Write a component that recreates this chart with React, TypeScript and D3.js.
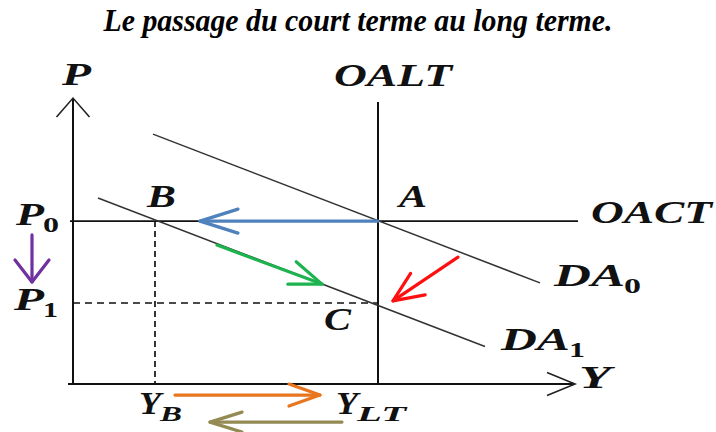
import React from "react";
import * as d3 from "d3";

// ---- Diagram data (economic units: Y on x, P on y) ----
const axisExtent = { yMax: 95.3, xMax: 100.4 };
const equilibrium = { YLT: 61, YB: 16.4, P0: 54.3, P1: 27 };
const OALT = [[61, 0], [61, 94]];
const OACT = [[-0.6, 54.3], [101, 54.3]];
const DA0 = [[16, 83.3], [93.4, 33.7]];
const DA1 = [[5, 62], [82.4, 12.5]];

// arrows: [from, to]
const arrowNames = ["blue", "green", "red", "purple", "orange", "olive"];
const arrowFrom = [[61, 54.3], [28.8, 46.3], [77, 42.3], [-8.2, 49.7], [20.4, -3.7], [53.8, -12.7]];
const arrowTo = [[25.4, 54.3], [49.8, 33.3], [64, 27.7], [-8.2, 34], [49.4, -3.7], [27.4, -12.7]];

const title = "Le passage du court terme au long terme.";

const W = 716, H = 432;
const x = d3.scaleLinear().domain([0, 100]).range([73, 573]);
const y = d3.scaleLinear().domain([0, 100]).range([384, 84]);
const line = d3.line<number[]>().x(d => x(d[0])).y(d => y(d[1]));

const arrowColors: Record<string, string> = {
  blue: "#4f81bd", green: "#1db34f", red: "#ff1010", purple: "#7030a0", orange: "#e8761f", olive: "#948a54",
};
const headSize: Record<string, [number, number]> = {
  blue: [38, 12], green: [32, 12], red: [30, 13], purple: [22, 17], orange: [31, 11], olive: [32, 10],
};

function head(tip: [number, number], from: [number, number], L: number, Wd: number) {
  const dx = tip[0] - from[0], dy = tip[1] - from[1];
  const len = Math.hypot(dx, dy);
  const ux = dx / len, uy = dy / len;
  const nx = -uy, ny = ux;
  const bx = tip[0] - ux * L, by = tip[1] - uy * L;
  return `M${bx + nx * Wd},${by + ny * Wd}L${tip[0]},${tip[1]}L${bx - nx * Wd},${by - ny * Wd}`;
}

const mathFont = "'Liberation Serif', 'Times New Roman', serif";

function Label({ px, py, main, len, sub, subLen, subItalic = false, size = 31 }: any) {
  return (
    <g fontFamily={mathFont} fill="#111" fontWeight="bold">
      <text x={px} y={py} fontStyle="italic" fontSize={size} textLength={len} lengthAdjust="spacingAndGlyphs">{main}</text>
      {sub !== undefined && (
        <text x={px + len - 1} y={py + 7} fontStyle={subItalic ? "italic" : "normal"} fontSize={size * 0.7}
          textLength={subLen} lengthAdjust="spacingAndGlyphs">{sub}</text>
      )}
    </g>
  );
}

export default function App() {
  const { YLT, YB, P0, P1 } = equilibrium;
  return (
    <svg width={W} height={H} style={{ position: "absolute", left: 0, top: 0, background: "#fff" }}>
      <text x={358} y={31} textAnchor="middle" fontFamily="'Liberation Serif', serif" fontWeight="bold"
        fontStyle="italic" fontSize={31} textLength={509} lengthAdjust="spacingAndGlyphs" fill="#000">{title}</text>

      {/* axes */}
      <path d={line([[0, 0], [0, axisExtent.yMax]])!} stroke="#111" strokeWidth={2} fill="none" />
      <path d={line([[-1, 0], [axisExtent.xMax, 0]])!} stroke="#111" strokeWidth={2} fill="none" />
      <path d={head([x(0), y(axisExtent.yMax)], [x(0), y(0)], 19, 16.5)} stroke="#222" strokeWidth={1.6} fill="none" />
      <path d={head([x(axisExtent.xMax), y(0)], [x(0), y(0)], 28, 11.5)} stroke="#222" strokeWidth={1.6} fill="none" />

      {/* dashed guides */}
      <path d={line([[YB, P0], [YB, 0]])!} stroke="#111" strokeWidth={1.7} strokeDasharray="6,4" fill="none" />
      <path d={line([[0, P1], [YLT, P1]])!} stroke="#111" strokeWidth={1.6} strokeDasharray="7,5" fill="none" />

      {/* supply curves */}
      <path d={line(OACT)!} stroke="#111" strokeWidth={1.8} fill="none" />
      <path d={line(OALT)!} stroke="#111" strokeWidth={2} fill="none" />

      {/* demand curves */}
      <path d={line(DA0)!} stroke="#333" strokeWidth={1.5} fill="none" />
      <path d={line(DA1)!} stroke="#333" strokeWidth={1.5} fill="none" />

      {/* colored arrows */}
      {arrowNames.map((n, i) => {
        const f: [number, number] = [x(arrowFrom[i][0]), y(arrowFrom[i][1])];
        const t: [number, number] = [x(arrowTo[i][0]), y(arrowTo[i][1])];
        const [L, Wd] = headSize[n];
        return (
          <g key={n} stroke={arrowColors[n]} strokeWidth={3.2} fill="none" strokeLinecap="round" strokeLinejoin="round">
            <path d={`M${f[0]},${f[1]}L${t[0]},${t[1]}`} />
            <path d={head(t, f, L, Wd)} />
          </g>
        );
      })}

      {/* labels */}
      <Label px={62} py={85} main="P" len={29} />
      <Label px={334} py={86} main="OALT" len={118} />
      <Label px={147} py={207} main="B" len={29} />
      <Label px={399} py={207} main="A" len={28} />
      <Label px={591} py={223} main="OACT" len={121} />
      <Label px={16} py={225} main="P" len={28} sub="0" subLen={16} />
      <Label px={14} py={310} main="P" len={30} sub="1" subLen={15} />
      <Label px={554} py={286} main="DA" len={71} sub="0" subLen={17} />
      <Label px={501} py={350} main="DA" len={69} sub="1" subLen={16} />
      <Label px={324} py={330} main="C" len={27} />
      <Label px={139} py={414} main="Y" len={22} sub="B" subLen={22} subItalic />
      <Label px={336} py={414} main="Y" len={22} sub="LT" subLen={49} subItalic />
      <Label px={579} py={388} main="Y" len={32} />
    </svg>
  );
}
